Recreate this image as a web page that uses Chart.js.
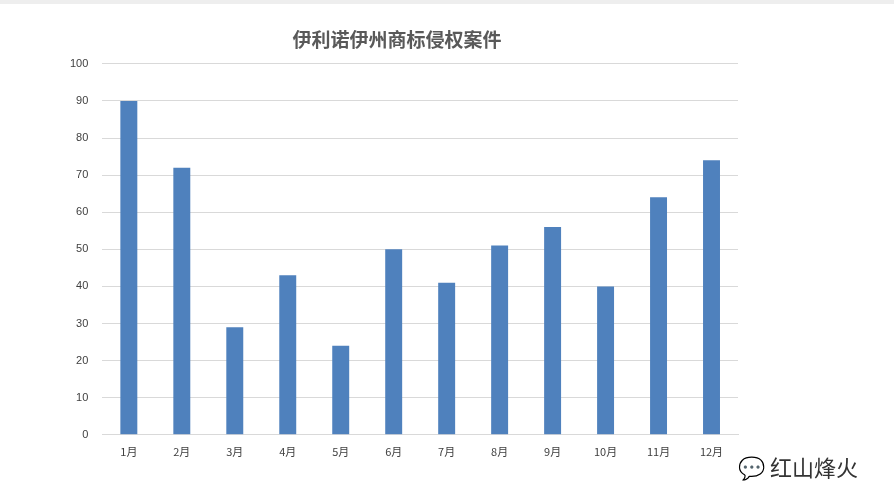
<!DOCTYPE html>
<html lang="zh">
<head>
<meta charset="UTF-8">
<script src="https://cdn.jsdelivr.net/npm/chart.js"></script>
<style>
  body { margin: 0; background: #fff; font-family: "Noto Sans CJK SC", sans-serif; }
  .top { height: 4px; background: #eeeeee; }
  #wrap { position: relative; width: 894px; height: 498px; }
  .mark { position: absolute; left: 738px; top: 446px; font-size: 22px; color: #333; }
</style>
</head>
<body>
<div class="top"></div>
<div id="wrap">
  <canvas id="c" width="894" height="498"></canvas>
  <div class="mark">💬 红山烽火</div>
</div>
<script>
const months = ['1月','2月','3月','4月','5月','6月','7月','8月','9月','10月','11月','12月'];
const cases = [90, 72, 29, 43, 24, 50, 41, 51, 56, 40, 64, 74];

new Chart(document.getElementById('c'), {
  type: 'bar',
  data: {
    labels: months,
    datasets: [{ data: cases, backgroundColor: '#4f81bd', barPercentage: 0.32, categoryPercentage: 1 }]
  },
  options: {
    responsive: false,
    animation: false,
    layout: { padding: { left: 56, right: 156, top: 10, bottom: 42 } },
    plugins: {
      legend: { display: false },
      tooltip: { enabled: false },
      title: {
        display: true, text: '伊利诺伊州商标侵权案件', color: '#595959',
        font: { size: 19, weight: 'bold', family: 'Noto Sans CJK SC' },
        padding: { top: 14, bottom: 13 }
      }
    },
    scales: {
      x: {
        grid: { display: false },
        border: { color: '#d9d9d9' },
        ticks: { color: '#404040', padding: 2, font: { size: 11, family: 'Noto Sans CJK SC' } }
      },
      y: {
        min: 0, max: 100,
        ticks: { stepSize: 10, color: '#404040', padding: 14, font: { size: 11 } },
        grid: { color: '#d9d9d9', drawTicks: false },
        border: { display: false }
      }
    }
  }
});
</script>
</body>
</html>
